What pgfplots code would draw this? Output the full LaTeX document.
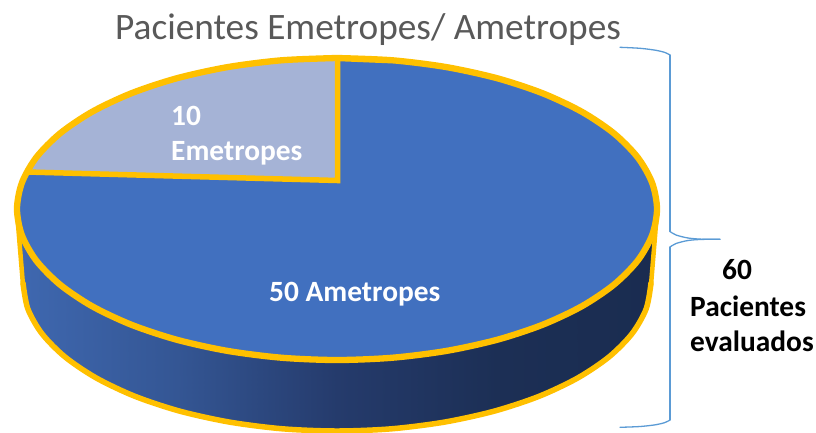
\documentclass[border=0pt]{standalone}
\usepackage{fontspec}
\setmainfont{Carlito}
\usepackage{pgfplots}
\pgfplotsset{compat=1.18}
\definecolor{topblue}{HTML}{4170BF}
\definecolor{sliceGray}{HTML}{A5B3D6}
\definecolor{rimYellow}{HTML}{FFC000}
\definecolor{braceBlue}{HTML}{5B9BD5}
\definecolor{titleGray}{HTML}{595959}
\begin{document}
\begin{tikzpicture}
\useasboundingbox (0,0) rectangle (816pt,432pt);
\begin{axis}[
  anchor=south west, at={(0,0)},
  scale only axis, width=816pt, height=432pt,
  xmin=0, xmax=816, ymin=0, ymax=432, y dir=reverse,
  hide axis, clip=true,
  colormap={rim}{rgb255=(63,104,176) rgb255=(52,86,148) rgb255=(37,59,108) rgb255=(28,47,85) rgb255=(26,44,80)},
  line join=round, line cap=round
]
% side wall of the disc
\addplot[surf, shader=interp, mesh/rows=2, point meta=x, draw=none] coordinates {
 (17,209) (21.9,235.2) (36.3,260.6) (59.9,284.5) (91.9,306.1) (131.3,324.7) (177,339.8) (227.6,350.9) (281.4,357.7) (337,360) (392.6,357.7) (446.4,350.9) (497,339.8) (542.7,324.7) (582.1,306.1) (614.1,284.5) (637.7,260.6) (652.1,235.2) (657,209)

 (23,283) (27.8,308.7) (41.9,333.6) (65.1,357) (96.5,378.1) (135.2,396.4) (180,411.2) (229.6,422.1) (282.5,428.8) (337,431) (391.5,428.8) (444.4,422.1) (494,411.2) (538.8,396.4) (577.5,378.1) (608.9,357) (632.1,333.6) (646.2,308.7) (651,283)
};
% outline of the wall
\addplot[rimYellow, line width=5.5pt, smooth] coordinates {
 (23,283) (27.8,308.7) (41.9,333.6) (65.1,357) (96.5,378.1) (135.2,396.4) (180,411.2) (229.6,422.1) (282.5,428.8) (337,431) (391.5,428.8) (444.4,422.1) (494,411.2) (538.8,396.4) (577.5,378.1) (608.9,357) (632.1,333.6) (646.2,308.7) (651,283)
};
\addplot[rimYellow, line width=4.5pt] coordinates {(17,212) (23,285)};
\addplot[rimYellow, line width=4.5pt] coordinates {(657,212) (651,285)};
% top face
\addplot[fill=topblue, draw=none, smooth] coordinates {
 (337,58) (392.6,60.3) (446.4,67.1) (497,78.2) (542.7,93.3) (582.1,111.9) (614.1,133.5) (637.7,157.4) (652.1,182.8) (657,209) (652.1,235.2) (637.7,260.6) (614.1,284.5) (582.1,306.1) (542.7,324.7) (497,339.8) (446.4,350.9) (392.6,357.7) (337,360) (281.4,357.7) (227.6,350.9) (177,339.8) (131.3,324.7) (91.9,306.1) (59.9,284.5) (36.3,260.6) (21.9,235.2) (17,209) (21.9,182.8) (36.3,157.4) (59.9,133.5) (91.9,111.9) (131.3,93.3) (177,78.2) (227.6,67.1) (281.4,60.3) (337,58)
};
% lighter slice
\addplot[fill=sliceGray, draw=none] coordinates {
 (337,58) (281.4,60.3) (227.6,67.1) (177,78.2) (131.3,93.3) (91.9,111.9) (59.9,133.5) (36.3,157.4) (27,172) (337.5,180.5)
} -- cycle;
% rim of the top face and the slice edges
\addplot[rimYellow, line width=6.3pt, smooth] coordinates {
 (392.6,60.3) (337,58) (392.6,60.3) (446.4,67.1) (497,78.2) (542.7,93.3) (582.1,111.9) (614.1,133.5) (637.7,157.4) (652.1,182.8) (657,209) (652.1,235.2) (637.7,260.6) (614.1,284.5) (582.1,306.1) (542.7,324.7) (497,339.8) (446.4,350.9) (392.6,357.7) (337,360) (281.4,357.7) (227.6,350.9) (177,339.8) (131.3,324.7) (91.9,306.1) (59.9,284.5) (36.3,260.6) (21.9,235.2) (17,209) (21.9,182.8) (36.3,157.4) (59.9,133.5) (91.9,111.9) (131.3,93.3) (177,78.2) (227.6,67.1) (281.4,60.3) (337,58)
};
\addplot[rimYellow, line width=5.5pt, line join=miter] coordinates {(27,172) (337.5,180.5) (337.5,58)};
% brace
\addplot[braceBlue, line width=1.3pt, smooth] coordinates {(620,47.3) (640,48.3) (656,50.3) (665,52.5) (670,55)};
\addplot[braceBlue, line width=1.3pt] coordinates {(670,55) (670,231.5)};
\addplot[braceBlue, line width=1.3pt, smooth] coordinates {(670,231.5) (676,235) (688,238) (702,239.2) (720,239.3)};
\addplot[braceBlue, line width=1.3pt, smooth] coordinates {(720,239.3) (702,239.4) (688,240.5) (676,243.5) (670,247)};
\addplot[braceBlue, line width=1.3pt] coordinates {(670,247) (670,420)};
\addplot[braceBlue, line width=1.3pt, smooth] coordinates {(670,420) (665,422.5) (656,424.7) (640,426.5) (620,427.3)};
% texts
\node[text=titleGray, font=\fontsize{37.3}{42}\selectfont, anchor=center, inner sep=0pt] at (axis cs:368,29.5) {Pacientes Emetropes/ Ametropes};
\node[text=white, font=\fontsize{29.4}{34}\selectfont\bfseries, anchor=base west, inner sep=0pt] at (axis cs:171,125) {10};
\node[text=white, font=\fontsize{29.4}{34}\selectfont\bfseries, anchor=base west, inner sep=0pt] at (axis cs:171,160) {Emetropes};
\node[text=white, font=\fontsize{29.4}{34}\selectfont\bfseries, anchor=base west, inner sep=0pt] at (axis cs:269,301) {50 Ametropes};
\node[text=black, font=\fontsize{29.4}{34}\selectfont\bfseries, anchor=base west, inner sep=0pt] at (axis cs:722,279) {60};
\node[text=black, font=\fontsize{29.4}{34}\selectfont\bfseries, anchor=base west, inner sep=0pt] at (axis cs:690,316) {Pacientes};
\node[text=black, font=\fontsize{29.4}{34}\selectfont\bfseries, anchor=base west, inner sep=0pt] at (axis cs:690,351) {evaluados};
\end{axis}
\end{tikzpicture}
\end{document}
